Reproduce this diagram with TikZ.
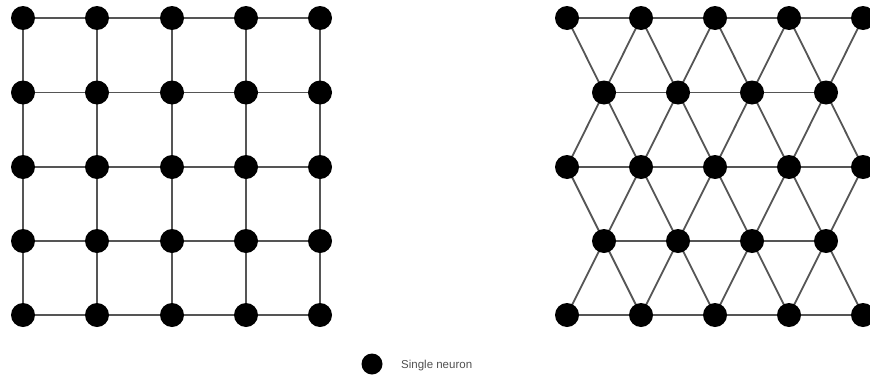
\documentclass[tikz,border=0pt]{standalone}
\usepackage{fontspec}
\setmainfont{Liberation Sans}
\pgfdeclarelayer{background}
\pgfsetlayers{background,main}
\definecolor{edgegray}{RGB}{85,85,85}
\definecolor{textgray}{RGB}{80,80,80}
\begin{document}
\begin{tikzpicture}[x=1pt,y=-1pt,
  neuron/.style={circle,fill=black,inner sep=0pt,minimum size=24pt},
  link/.style={draw=edgegray,line width=1.8pt}]
\useasboundingbox (0,0) rectangle (870,383);
% left square grid
\foreach \i/\x in {0/23,1/97,2/172,3/246,4/320}{
  \foreach \j/\y in {0/18,1/92.5,2/167,3/241,4/315}{
    \node[neuron] (s\i\j) at (\x,\y) {};
  }
}
% right triangular grid
\foreach \j/\y in {0/18,2/167,4/315}{
  \foreach \i/\x in {0/567,1/641,2/715,3/789,4/863}{
    \node[neuron] (t\i\j) at (\x,\y) {};
  }
}
\foreach \j/\y in {1/92.5,3/241}{
  \foreach \i/\x in {0/604,1/678,2/752,3/826}{
    \node[neuron] (t\i\j) at (\x,\y) {};
  }
}
\begin{pgfonlayer}{background}
% square links
\foreach \i in {0,...,4}{
  \foreach \j [evaluate=\j as \k using int(\j+1)] in {0,...,3}{
    \draw[link] (s\i\j.center) -- (s\i\k.center);
    \draw[link] (s\j\i.center) -- (s\k\i.center);
  }
}
% triangular horizontal links
\foreach \j in {0,2,4}{
  \foreach \i [evaluate=\i as \k using int(\i+1)] in {0,...,3}{
    \draw[link] (t\i\j.center) -- (t\k\j.center);
  }
}
\foreach \j in {1,3}{
  \foreach \i [evaluate=\i as \k using int(\i+1)] in {0,...,2}{
    \draw[link] (t\i\j.center) -- (t\k\j.center);
  }
}
% triangular diagonal links
\foreach \j/\m in {0/1,2/1,2/3,4/3}{
  \foreach \i [evaluate=\i as \k using int(\i+1)] in {0,...,3}{
    \draw[link] (t\i\j.center) -- (t\i\m.center);
    \draw[link] (t\k\j.center) -- (t\i\m.center);
  }
}
\end{pgfonlayer}
% legend
\node[neuron,minimum size=21pt] (leg) at (372,364) {};
\node[anchor=west,text=textgray,font=\fontsize{11.5}{13}\selectfont,inner sep=0pt] (legtext) at (401,366) {Single neuron};
\end{tikzpicture}
\end{document}
